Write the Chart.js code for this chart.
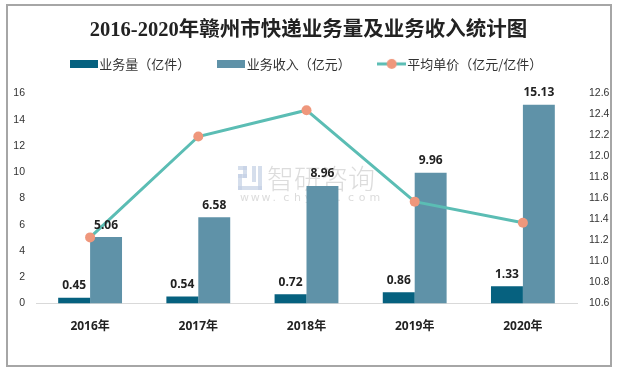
<!DOCTYPE html>
<html>
<head>
<meta charset="utf-8">
<script src="https://cdn.jsdelivr.net/npm/chart.js@4.4.1/dist/chart.umd.min.js"></script>
<style>
  html, body { margin: 0; padding: 0; background: #fff; }
  #wrap { position: relative; width: 617px; height: 370px; }
  #frame { position: absolute; left: 6px; top: 4px; width: 602px; height: 359px; border: 2px solid #a6a6a6; }
  canvas { position: absolute; left: 0; top: 0; }
</style>
</head>
<body>
<div id="wrap">
  <div id="frame"></div>
  <canvas id="myChart" width="617" height="370"></canvas>
</div>
<script>
const ctx = document.getElementById('myChart');

// data
const years = ['2016年', '2017年', '2018年', '2019年', '2020年'];
const volume = [0.45, 0.54, 0.72, 0.86, 1.33];      // 业务量（亿件）
const revenue = [5.06, 6.58, 8.96, 9.96, 15.13];    // 业务收入（亿元）
const unitPrice = [11.23, 12.19, 12.44, 11.57, 11.37]; // 平均单价

const darkBlue = '#06617f';
const lightBlue = '#5f92a8';
const teal = '#5bbdb4';
const salmon = '#ef977c';

// small images for the legend
function boxIcon(color) {
  const c = document.createElement('canvas');
  c.width = 28; c.height = 8;
  const g = c.getContext('2d');
  g.fillStyle = color;
  g.fillRect(0, 0, 28, 8);
  return c;
}
function lineIcon() {
  const c = document.createElement('canvas');
  c.width = 29; c.height = 12;
  const g = c.getContext('2d');
  g.strokeStyle = teal;
  g.lineWidth = 3;
  g.beginPath(); g.moveTo(0, 6); g.lineTo(29, 6); g.stroke();
  g.fillStyle = salmon;
  g.beginPath(); g.arc(14.5, 6, 5, 0, Math.PI * 2); g.fill();
  return c;
}

// labels on top of the bars
const barLabels = {
  id: 'barLabels',
  afterDatasetsDraw(chart) {
    const c = chart.ctx;
    c.save();
    c.font = 'bold 12px "Open Sans", "Liberation Sans", sans-serif';
    c.fillStyle = '#222';
    c.textAlign = 'center';
    c.textBaseline = 'middle';
    [0, 1].forEach(i => {
      const meta = chart.getDatasetMeta(i);
      meta.data.forEach((bar, j) => {
        c.fillText(chart.data.datasets[i].data[j].toFixed(2), bar.x, bar.y - 12);
      });
    });
    c.restore();
  }
};

// faint watermark behind the marks
const watermark = {
  id: 'watermark',
  beforeDatasetsDraw(chart) {
    const c = chart.ctx;
    c.save();
    c.fillStyle = 'rgba(195,208,228,0.7)';
    c.fillRect(238, 166, 9, 4);
    c.fillRect(243, 166, 4, 12);
    c.fillRect(238, 174, 9, 4);
    c.fillRect(238, 174, 4, 16);
    c.fillRect(238, 186, 24, 4);
    c.fillRect(252, 166, 4, 16);
    c.fillRect(258, 166, 4, 24);
    c.fillStyle = 'rgba(185,185,185,0.5)';
    c.font = '300 27px "Noto Sans CJK SC"';
    c.textBaseline = 'alphabetic';
    c.fillText('智研咨询', 267, 189);
    c.font = '11px "DejaVu Sans"';
    const site = 'www.chyxx.com';
    for (let k = 0; k < site.length; k++) {
      c.fillText(site[k], 240 + k * 10.8, 201);
    }
    c.restore();
  }
};

// push the plot area down under the legend
const legendSpace = {
  id: 'legendSpace',
  beforeInit(chart) {
    const fit = chart.legend.fit;
    chart.legend.fit = function () {
      fit.bind(chart.legend)();
      this.height += 13;
    };
  }
};

new Chart(ctx, {
  type: 'bar',
  data: {
    labels: years,
    datasets: [{
      label: '业务量（亿件）',
      data: volume,
      backgroundColor: darkBlue,
      yAxisID: 'y',
      order: 2
    }, {
      label: '业务收入（亿元）',
      data: revenue,
      backgroundColor: lightBlue,
      yAxisID: 'y',
      order: 2
    }, {
      type: 'line',
      label: '平均单价（亿元/亿件）',
      data: unitPrice,
      borderColor: teal,
      borderWidth: 3,
      pointRadius: 5,
      pointBackgroundColor: salmon,
      pointBorderWidth: 0,
      tension: 0,
      yAxisID: 'y1',
      order: 1
    }]
  },
  options: {
    responsive: false,
    animation: false,
    categoryPercentage: 0.59,
    barPercentage: 1,
    layout: { padding: { left: 0, right: 0, top: 0, bottom: 20 } },
    plugins: {
      title: {
        display: true,
        text: '2016-2020年赣州市快递业务量及业务收入统计图',
        color: '#222',
        font: { family: '"Liberation Serif", "Noto Sans CJK SC", serif', size: 20.5, weight: 'bold' },
        padding: { top: 18.5, bottom: 1.8 }
      },
      legend: {
        labels: {
          usePointStyle: true,
          pointStyleWidth: 18,
          padding: 12.5,
          color: '#333',
          font: { family: '"Noto Sans CJK SC"', size: 13 },
          generateLabels: () => [
            { text: '业务量（亿件）　　', pointStyle: boxIcon(darkBlue), datasetIndex: 0, lineWidth: 0, fontColor: '#333' },
            { text: '业务收入（亿元）　　', pointStyle: boxIcon(lightBlue), datasetIndex: 1, lineWidth: 0, fontColor: '#333' },
            { text: '平均单价（亿元/亿件）', pointStyle: lineIcon(), datasetIndex: 2, lineWidth: 0, fontColor: '#333' }
          ]
        }
      },
      tooltip: { enabled: false }
    },
    scales: {
      x: {
        grid: { display: false, drawTicks: false },
        border: { color: '#d9d9d9', width: 1 },
        ticks: {
          padding: 16,
          color: '#222',
          font: { family: '"Open Sans", "Noto Sans CJK SC"', size: 12, weight: 'bold' }
        }
      },
      y: {
        position: 'left',
        min: 0,
        max: 16,
        grid: { display: false, drawTicks: false },
        border: { display: false },
        afterFit: s => { s.width = 36; },
        ticks: {
          stepSize: 2,
          padding: 11,
          color: '#333',
          font: { family: '"Liberation Sans"', size: 10.5 }
        }
      },
      y1: {
        position: 'right',
        min: 10.6,
        max: 12.6,
        grid: { display: false, drawTicks: false },
        border: { display: false },
        afterFit: s => { s.width = 40; },
        ticks: {
          stepSize: 0.2,
          padding: 12,
          color: '#333',
          font: { family: '"Liberation Sans"', size: 10.5 }
        }
      }
    }
  },
  plugins: [barLabels, watermark, legendSpace]
});
</script>
</body>
</html>
